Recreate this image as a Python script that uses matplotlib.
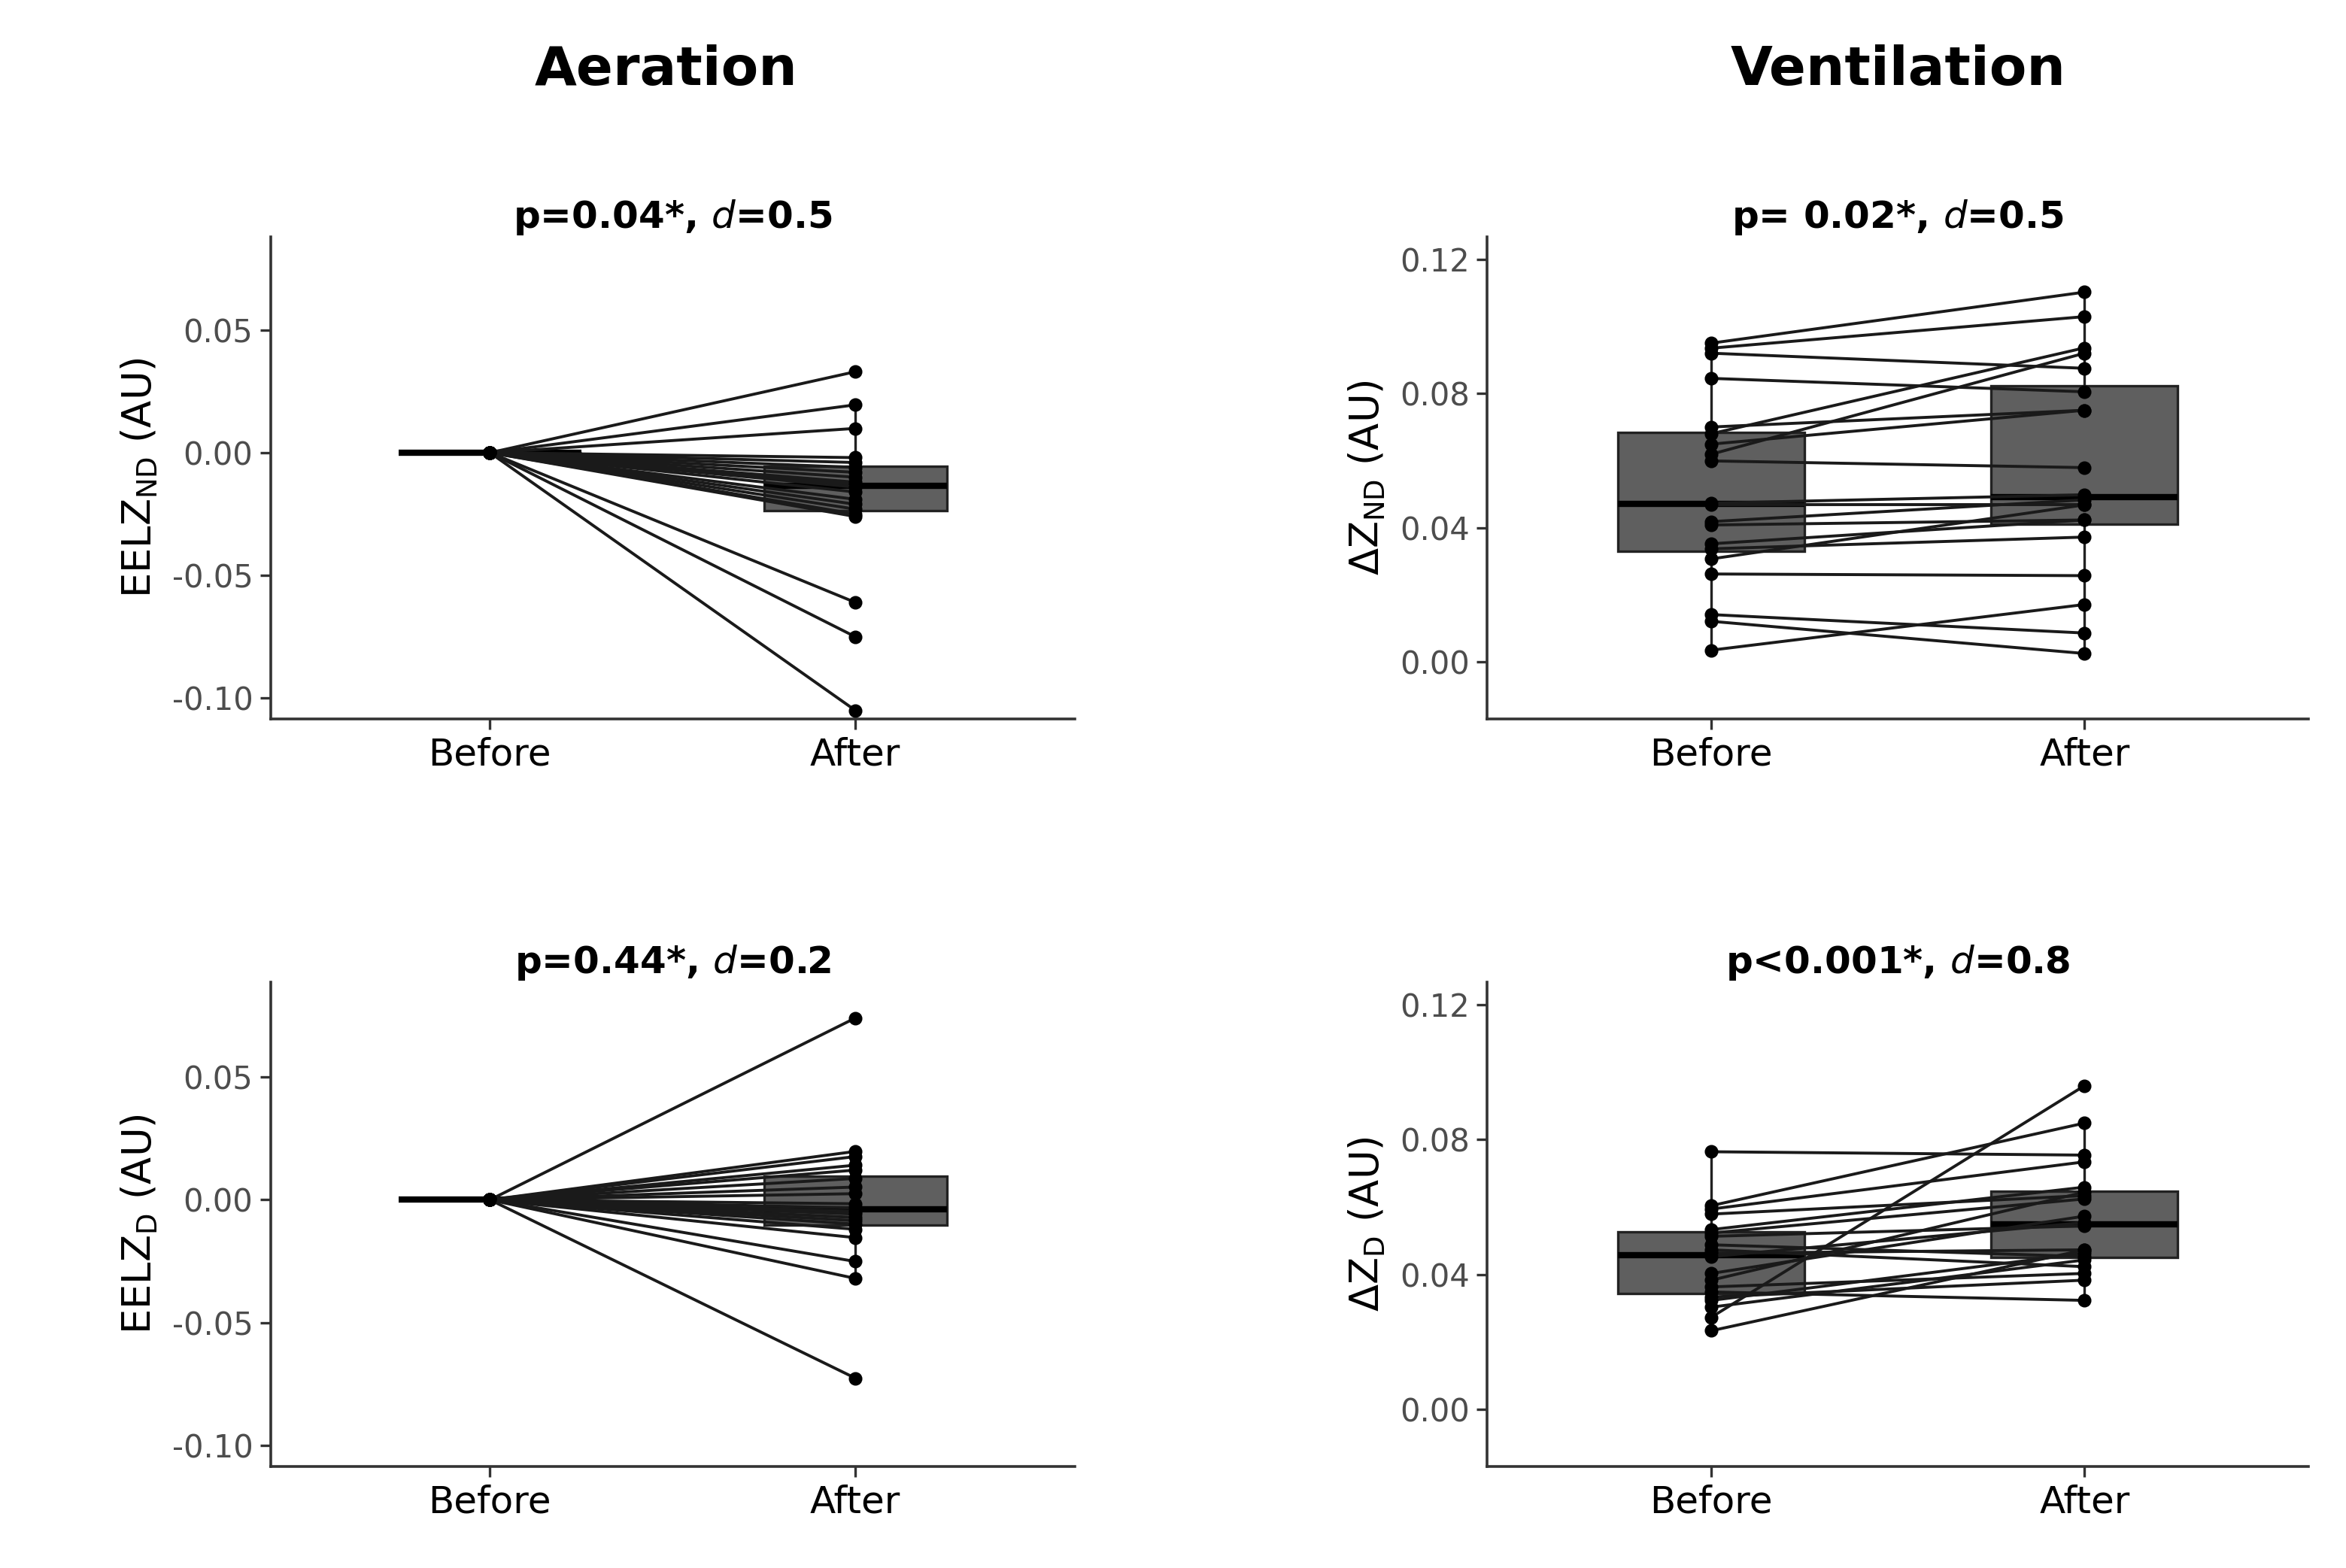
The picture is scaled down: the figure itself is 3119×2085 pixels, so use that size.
import numpy as np
import matplotlib
matplotlib.use("Agg")
from matplotlib import pyplot as plt

groups = ["Before", "After"]

# Aeration, non-dependent (before all zero by construction)
eelz_nd_before = [0.0] * 20
eelz_nd_after = [0.033, 0.0195, 0.0099, -0.002, -0.004, -0.006, -0.008, -0.010, -0.012, -0.013,
                 -0.014, -0.016, -0.019, -0.021, -0.023, -0.025, -0.026, -0.061, -0.075, -0.105]

# Aeration, dependent
eelz_d_before = [0.0] * 20
eelz_d_after = [0.074, 0.0197, 0.0176, 0.0141, 0.0121, 0.0087, 0.0052, 0.0025, -0.0016, -0.0033,
                -0.0047, -0.0058, -0.0072, -0.0085, -0.0099, -0.0120, -0.0154, -0.0251, -0.0320, -0.0726]

# Ventilation, non-dependent
dz_nd_before = [0.0950, 0.0935, 0.0920, 0.0845, 0.0700, 0.0680, 0.0619, 0.0649, 0.0599, 0.0473,
                0.0468, 0.0418, 0.0408, 0.0352, 0.0337, 0.0307, 0.0262, 0.0141, 0.0121, 0.0035]
dz_nd_after = [0.1102, 0.1029, 0.0875, 0.0805, 0.0750, 0.0936, 0.0920, 0.0750, 0.0579, 0.0498,
               0.0468, 0.0483, 0.0423, 0.0423, 0.0372, 0.0468, 0.0257, 0.0086, 0.0025, 0.0171]

# Ventilation, dependent
dz_d_before = [0.0764, 0.0273, 0.0604, 0.0594, 0.0579, 0.0533, 0.0523, 0.0513, 0.0463, 0.0453,
               0.0403, 0.0488, 0.0473, 0.0363, 0.0348, 0.0333, 0.0323, 0.0233, 0.0303, 0.0383]
dz_d_after = [0.0754, 0.0960, 0.0849, 0.0734, 0.0634, 0.0659, 0.0624, 0.0544, 0.0473, 0.0554,
              0.0573, 0.0453, 0.0423, 0.0403, 0.0323, 0.0383, 0.0463, 0.0473, 0.0443, 0.0644]

panels = [
    (eelz_nd_before, eelz_nd_after, "p=0.04*, $\\mathit{d}$=0.5", "EELZ$_{\\mathrm{ND}}$ (AU)",
     [0.05, 0.00, -0.05, -0.10], ["0.05", "0.00", "-0.05", "-0.10"], (-0.1085, 0.088),
     [0.1154, 0.5415, 0.3426, 0.3075]),
    (dz_nd_before, dz_nd_after, "p= 0.02*, $\\mathit{d}$=0.5", "$\\Delta$Z$_{\\mathrm{ND}}$ (AU)",
     [0.12, 0.08, 0.04, 0.00], ["0.12", "0.08", "0.04", "0.00"], (-0.017, 0.1267),
     [0.634, 0.5415, 0.350, 0.3075]),
    (eelz_d_before, eelz_d_after, "p=0.44*, $\\mathit{d}$=0.2", "EELZ$_{\\mathrm{D}}$ (AU)",
     [0.05, 0.00, -0.05, -0.10], ["0.05", "0.00", "-0.05", "-0.10"], (-0.1086, 0.0886),
     [0.1154, 0.0647, 0.3426, 0.3089]),
    (dz_d_before, dz_d_after, "p<0.001*, $\\mathit{d}$=0.8", "$\\Delta$Z$_{\\mathrm{D}}$ (AU)",
     [0.12, 0.08, 0.04, 0.00], ["0.12", "0.08", "0.04", "0.00"], (-0.017, 0.1267),
     [0.634, 0.0647, 0.350, 0.3089]),
]

fig = plt.figure(figsize=(15.595, 10.425), dpi=200)

for before, after, title, ylabel, ticks, ticklabels, ylim, pos in panels:
    ax = fig.add_axes(pos)
    ax.boxplot([before, after], positions=[0, 1], widths=0.5, patch_artist=True,
               showfliers=False, showcaps=False,
               boxprops=dict(facecolor="#5f5f5f", edgecolor="#222222", linewidth=1.2),
               medianprops=dict(color="black", linewidth=3),
               whiskerprops=dict(color="#222222", linewidth=1.2), zorder=1)
    for b, a in zip(before, after):
        ax.plot([0, 1], [b, a], color="#1a1a1a", lw=1.4, marker="o", ms=5.5,
                markerfacecolor="black", markeredgecolor="black", zorder=3)
    ax.set_xlim(-0.6, 1.6)
    ax.set_ylim(*ylim)
    ax.set_xticks([0, 1])
    ax.set_xticklabels(groups, fontsize=18, color="black")
    ax.set_yticks(ticks)
    ax.set_yticklabels(ticklabels, fontsize=15, color="#4d4d4d")
    ax.set_ylabel(ylabel, fontsize=19, labelpad=6)
    ax.set_title(title, fontsize=18, fontweight="bold", pad=2)
    for s in ["top", "right"]:
        ax.spines[s].set_visible(False)
    for s in ["left", "bottom"]:
        ax.spines[s].set_color("#333333")
        ax.spines[s].set_linewidth(1.3)
    ax.tick_params(color="#333333", width=1.2, length=5)

fig.text(0.284, 0.955, "Aeration", fontsize=26, fontweight="bold", ha="center", va="center")
fig.text(0.809, 0.955, "Ventilation", fontsize=26, fontweight="bold", ha="center", va="center")

fig.savefig("out.png", dpi=200)
